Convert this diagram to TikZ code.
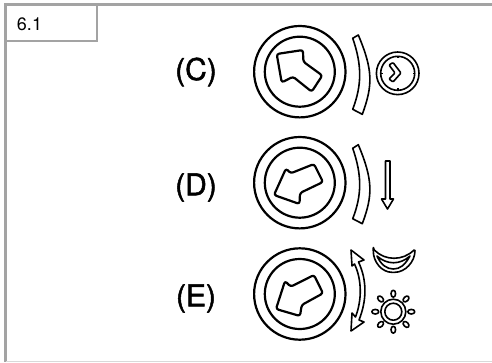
\documentclass[tikz,border=0pt]{standalone}
\usepackage{fontspec}
\setmainfont{TeX Gyre Heros}
\newfontfamily\knobfont[FakeBold=1.6]{TeX Gyre Heros}
\tikzset{
	frameline/.style={draw=black!36, line width=2.2pt},
	inkline/.style={draw=black, line width=2.2pt, line join=round},
	thinline/.style={draw=black, line width=1.6pt, line join=round},
	knoblabel/.style={font=\knobfont\fontsize{30}{30}\selectfont, inner sep=0pt}
}
\begin{document}
\begin{tikzpicture}[x=1pt,y=-1pt]
	\useasboundingbox (0,0) rectangle (492,362);
	% frame and number box
	\draw[frameline] (492,4.5) -- (5.5,4.5) -- (5.5,362);
	\draw[frameline] (5.5,41) -- (97,41) -- (97,4.5);
	\draw[draw=black!15, line width=1.5pt] (6,361.3) -- (492,361.3);
	\node[inner sep=0pt] (numlabel) at (29.5,24) {\fontsize{18}{18}\selectfont 6.1};
	% labels
	\node[knoblabel] (labelC) at (196,72) {(C)};
	\node[knoblabel] (labelD) at (196,187.5) {(D)};
	\node[knoblabel] (labelE) at (196,298.5) {(E)};
	% knobs
	\foreach \ky in {71.7,182.7,294} {
		\draw[inkline] (299.8,\ky) circle (45.7);
		\draw[inkline] (299.8,\ky) circle (35);
	}
	% arrows on the knobs
	\draw[inkline, rounded corners=2.5pt] (276.7,54) -- (303,50) -- (303.3,61.7) -- (322.3,75.5) -- (311.7,91.7) -- (293,76.7) -- (281.7,82.5) -- cycle;
	\draw[inkline, rounded corners=2.5pt] (286,168.5) -- (290.7,173.3) -- (314,164) -- (323,182) -- (300,193) -- (299.5,204) -- (274,195) -- cycle;
	\draw[inkline, rounded corners=2.5pt] (285,281) -- (290.7,286.7) -- (314,275) -- (323,293.3) -- (301.7,305) -- (300,316) -- (276,309) -- cycle;
	% bands
	\draw[thinline] (352.7,38.3) -- (358.3,35) .. controls (373,70) and (373,85) .. (362.3,114.3) -- (352.7,109.3) .. controls (362,85) and (362,65) .. cycle;
	\draw[thinline] (352.7,148.3) -- (358.3,144.7) .. controls (373,180) and (373,195) .. (362.3,223.7) -- (352.7,218.7) .. controls (362,195) and (362,175) .. cycle;
	% double arrow band
	\draw[thinline] (351,250) -- (364,260) -- (358.5,262) .. controls (367,280) and (367,300) .. (359,320) -- (364,322) -- (351,331) -- (352,313) -- (355.5,317) .. controls (362,300) and (362,280) .. (354.5,264) -- (352,266) -- cycle;
	% small knob
	\draw[thinline] (397.7,73.3) circle (21.3);
	\draw[thinline] (397.7,73.3) circle (17);
	\foreach \ang in {0,90,180,270}
		\draw[thinline] (397.7,73.3) ++(\ang:17) -- ++(\ang:-2);
	\draw[thinline, rounded corners=1pt] (389,65) -- (393,62.5) -- (401,73) -- (393,82) -- (389,79) -- (395,73) -- cycle;
	% down arrow
	\draw[thinline] (385.5,161) -- (390,161) -- (390,199) -- (393.5,199) -- (387.5,209) -- (381.5,199) -- (385.5,199) -- cycle;
	% moon
	\draw[thinline, rounded corners=1.5pt] (373.3,249) .. controls (385,261) and (403,261) .. (415,249) .. controls (415,262) and (405,272.3) .. (393.3,272.3) .. controls (382,272.3) and (373,262) .. cycle;
	\draw[thinline] (377,256) .. controls (387,265) and (400,265) .. (410,256) .. controls (405,265) and (400,269) .. (393.3,269) .. controls (387,269) and (381,265) .. cycle;
	% sun
	\draw[thinline] (393.3,311.7) circle (12.5);
	\draw[thinline] (393.3,311.7) circle (8.5);
	\foreach \ang in {0,45,...,315}
		\draw[thinline, rotate around={\ang:(393.3,311.7)}] (411.3,311.7) ellipse (3.5 and 2.3);
\end{tikzpicture}
\end{document}
